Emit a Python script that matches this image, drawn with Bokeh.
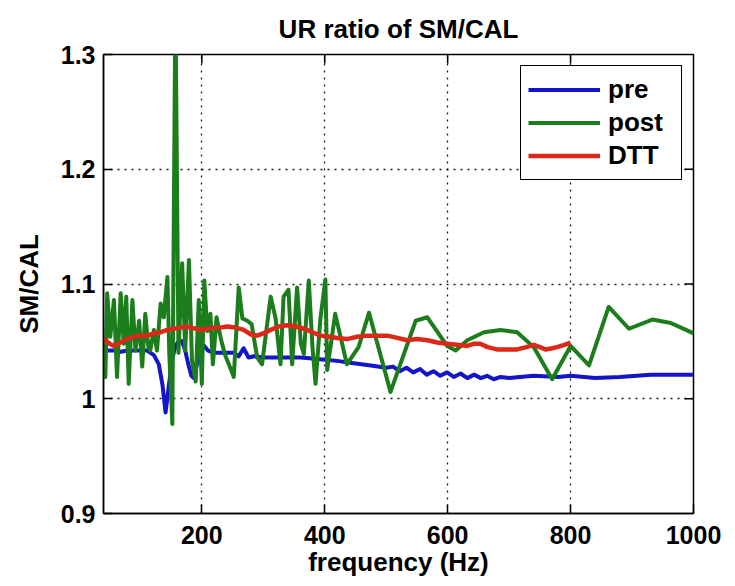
import math
from bokeh.plotting import figure
from bokeh.models import Range1d, FixedTicker, CustomJSTickFormatter, Legend
from bokeh.embed import file_html
from bokeh.resources import INLINE

# ---- data ----
pre_f = [40, 46, 57, 68, 79, 89, 100, 111, 122, 130, 136, 141, 146, 152, 157, 163, 168, 173,
         178, 183, 187, 192, 198, 204, 210, 220, 230, 241, 252, 260, 268, 276, 285, 300, 320,
         340, 360, 380, 400, 420, 447, 475, 500, 511, 522, 533, 544, 555, 566, 577, 588, 599,
         610, 621, 632, 643, 654, 664, 675, 686, 700, 740, 780, 800, 840, 880, 930, 1000]
pre_v = [1.040, 1.042, 1.042, 1.041, 1.042, 1.042, 1.042, 1.042, 1.038, 1.030, 1.012, 0.988,
         1.010, 1.035, 1.046, 1.051, 1.050, 1.042, 1.030, 1.020, 1.018, 1.030, 1.047, 1.046,
         1.042, 1.040, 1.040, 1.040, 1.040, 1.037, 1.044, 1.036, 1.037, 1.036, 1.036, 1.036,
         1.036, 1.035, 1.034, 1.033, 1.031, 1.029, 1.027, 1.028, 1.024, 1.027, 1.023, 1.026,
         1.021, 1.024, 1.020, 1.023, 1.019, 1.022, 1.018, 1.021, 1.018, 1.020, 1.017, 1.019,
         1.018, 1.020, 1.019, 1.020, 1.018, 1.019, 1.021, 1.021]

post_f = [40, 43, 46, 51, 57, 62, 68, 73, 77, 81, 87, 92, 98, 103, 108, 113, 116, 122, 127,
          133, 138, 144, 147, 152, 157, 162, 168, 173, 179, 184, 190, 195, 200, 204, 209, 214,
          218, 224, 231, 238, 244, 252, 260, 266, 274, 281, 290, 298, 312, 320, 328, 333, 341,
          347, 355, 361, 366, 374, 380, 385, 393, 401, 404, 417, 436, 455, 472, 507, 548, 567,
          599, 613, 632, 659, 686, 713, 740, 770, 800, 830, 862, 895, 933, 963, 1000]
post_v = [1.025, 1.019, 1.092, 1.054, 1.086, 1.019, 1.092, 1.048, 1.089, 1.013, 1.086, 1.042,
          1.068, 1.028, 1.074, 1.045, 1.042, 1.060, 1.042, 1.083, 1.071, 1.106, 1.040, 0.978,
          1.350, 1.040, 1.118, 1.042, 1.121, 1.033, 1.015, 1.086, 1.013, 1.103, 1.059, 1.074,
          1.030, 1.071, 1.052, 1.038, 1.030, 1.019, 1.097, 1.070, 1.068, 1.065, 1.036, 1.030,
          1.089, 1.070, 1.030, 1.089, 1.095, 1.030, 1.097, 1.048, 1.039, 1.103, 1.045, 1.013,
          1.070, 1.104, 1.025, 1.074, 1.030, 1.045, 1.075, 1.006, 1.068, 1.071, 1.046, 1.042,
          1.051, 1.058, 1.060, 1.058, 1.045, 1.017, 1.046, 1.029, 1.080, 1.061, 1.069, 1.066,
          1.057]

dtt_f = [40, 50, 57, 68, 78, 89, 100, 111, 122, 133, 144, 155, 165, 175, 182, 190, 198, 209,
         220, 230, 241, 255, 268, 280, 290, 300, 312, 325, 339, 352, 366, 380, 393, 409, 420,
         436, 453, 469, 485, 502, 518, 534, 550, 567, 583, 599, 615, 632, 643, 653, 665, 680,
         697, 713, 728, 740, 750, 759, 770, 778, 790, 800]
dtt_v = [1.052, 1.048, 1.046, 1.049, 1.052, 1.054, 1.055, 1.055, 1.057, 1.058, 1.060, 1.061,
         1.062, 1.063, 1.062, 1.061, 1.060, 1.061, 1.062, 1.062, 1.063, 1.062, 1.060, 1.056,
         1.055, 1.057, 1.060, 1.063, 1.064, 1.063, 1.061, 1.058, 1.055, 1.054, 1.053, 1.052,
         1.054, 1.055, 1.055, 1.055, 1.053, 1.051, 1.052, 1.051, 1.049, 1.048, 1.047, 1.046,
         1.048, 1.048, 1.045, 1.043, 1.043, 1.043, 1.045, 1.047, 1.045, 1.043, 1.044, 1.045,
         1.047, 1.049]

x_ticks = [200, 400, 600, 800, 1000]
y_ticks = [0.9, 1.0, 1.1, 1.2, 1.3]
x_min, x_max = 40, 1000
y_min, y_max = 0.9, 1.3

FONT = "Liberation Sans"

p = figure(width=735, height=586, output_backend="svg", toolbar_location=None,
           x_range=Range1d(x_min, x_max), y_range=Range1d(y_min, y_max),
           min_border_left=103, min_border_right=42, min_border_top=54, min_border_bottom=73,
           title="UR ratio of SM/CAL")

p.title.align = "center"
p.title.vertical_align = "top"
p.title.text_font = FONT
p.title.text_font_size = "26px"
p.title.text_font_style = "bold"
p.title.text_color = "black"
p.title.standoff = 18

p.background_fill_color = "white"
p.border_fill_color = "white"
p.outline_line_color = "black"
p.outline_line_width = 1.5
p.outline_line_alpha = 1

yfmt = CustomJSTickFormatter(code="return (Math.abs(tick-1) < 1e-9) ? '1' : tick.toFixed(1);")

for ax in [p.xaxis[0], p.yaxis[0]]:
    ax.major_tick_in = 9
    ax.major_tick_out = 0
    ax.minor_tick_line_color = None
    ax.axis_line_color = "black"
    ax.axis_line_width = 1.5
    ax.major_tick_line_width = 1.5
    ax.major_label_text_font = FONT
    ax.major_label_text_font_size = "25px"
    ax.major_label_text_font_style = "bold"
    ax.major_label_text_color = "black"
    ax.axis_label_text_font = FONT
    ax.axis_label_text_font_size = "26px"
    ax.axis_label_text_font_style = "bold"
    ax.axis_label_text_color = "black"

p.xaxis[0].ticker = FixedTicker(ticks=x_ticks)
p.yaxis[0].ticker = FixedTicker(ticks=y_ticks)
p.yaxis[0].formatter = yfmt
p.xaxis[0].axis_label = "frequency (Hz)"
p.yaxis[0].axis_label = "SM/CAL"
p.xaxis[0].major_label_standoff = 12
p.yaxis[0].major_label_standoff = 8
p.xaxis[0].axis_label_standoff = 0
p.yaxis[0].axis_label_standoff = 14

p.xgrid.ticker = FixedTicker(ticks=x_ticks)
p.ygrid.ticker = FixedTicker(ticks=y_ticks)
for g in [p.xgrid[0], p.ygrid[0]]:
    g.grid_line_color = "black"
    g.grid_line_width = 1.3
    g.grid_line_dash = "2 5"
    g.grid_line_alpha = 0.9

# inward tick marks on the top and right frame edges (clipped to the frame)
p.scatter(x=x_ticks[:-1], y=[y_max] * (len(x_ticks) - 1), marker="dash", angle=math.pi / 2,
          size=18, line_color="black", line_width=1.5)
p.scatter(x=[x_max] * (len(y_ticks) - 2), y=y_ticks[1:-1], marker="dash",
          size=18, line_color="black", line_width=1.5)

l_pre = p.line(pre_f, pre_v, line_color="#1414c8", line_width=4, line_join="round")
l_post = p.line(post_f, post_v, line_color="#1b7d1b", line_width=4, line_join="round")
l_dtt = p.line(dtt_f, dtt_v, line_color="#dc2818", line_width=4.5, line_join="round")

legend = Legend(items=[("pre", [l_pre]), ("post", [l_post]), ("DTT", [l_dtt])],
                location="top_right")
legend.margin = 11
legend.padding = 7
legend.spacing = 0
legend.glyph_width = 72
legend.glyph_height = 33
legend.label_height = 33
legend.label_width = 66
legend.label_standoff = 8
legend.label_text_font = FONT
legend.label_text_font_size = "26px"
legend.label_text_font_style = "bold"
legend.label_text_color = "black"
legend.border_line_color = "black"
legend.border_line_width = 1.5
legend.border_line_alpha = 1
legend.background_fill_color = "white"
legend.background_fill_alpha = 1
p.add_layout(legend, "center")

open("out.html", "w").write(file_html(p, INLINE))
